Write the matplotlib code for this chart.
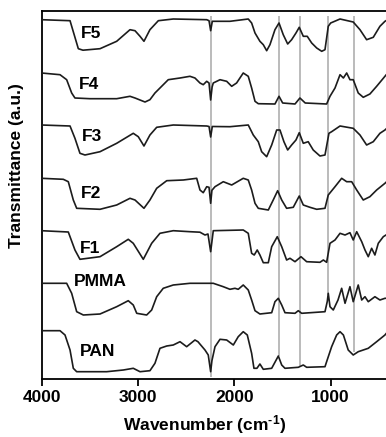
import matplotlib
matplotlib.use("Agg")
import matplotlib.pyplot as plt

plt.rcParams['font.family'] = ['Liberation Sans', 'DejaVu Sans']
plt.rcParams['mathtext.fontset'] = 'custom'
plt.rcParams['mathtext.rm'] = 'Liberation Sans:bold'
plt.rcParams['mathtext.bf'] = 'Liberation Sans:bold'
plt.rcParams['mathtext.default'] = 'rm'

# ---- data (wavenumber in cm^-1, transmittance drop below each trace's baseline, a.u.) ----
names = ["F5", "F4", "F3", "F2", "F1", "PMMA", "PAN"]
offsets = [359.3, 306.0, 254.0, 200.7, 148.3, 95.7, 48.3]

f5_wn = [4000, 3704, 3618, 3570, 3393, 3220, 3082, 3030, 2978, 2937, 2875, 2788, 2633, 2286, 2262, 2245, 2228,
         2045, 1855, 1820, 1785, 1734, 1699, 1664, 1630, 1578, 1536, 1492, 1446, 1405, 1360, 1326, 1284, 1243,
         1197, 1145, 1093, 1059, 1025, 1000, 903, 766, 696, 627, 558, 489, 437, 426]
f5_d = [0, 1, 29, 30.5, 29, 21.6, 10, 11, 16.6, 21.6, 10, 1, -0.7, 0, 1, 11, 1.6,
        1.6, -0.7, 3.3, 13.3, 21.6, 25, 31, 25, 10, 3.3, 15, 24.3, 20, 13.3, 7.6, 16.6, 16.6,
        23.3, 28.3, 31.6, 30, 6.6, 3.3, -0.7, 2.3, 10, 20, 17.6, 6.6, 1.6, 1]

f4_wn = [4000, 3808, 3739, 3687, 3653, 3497, 3220, 3082, 3030, 2926, 2875, 2823, 2771, 2685, 2563, 2460, 2408,
         2356, 2322, 2286, 2262, 2245, 2230, 2218, 2148, 2079, 2027, 1976, 1907, 1855, 1820, 1785, 1751, 1578,
         1536, 1498, 1370, 1319, 1264, 1042, 1007, 955, 903, 868, 834, 800, 766, 714, 662, 593, 523, 437, 426]
f4_d = [0, 1.7, 6.7, 20, 25, 25.7, 25.7, 23.3, 25, 29, 26.7, 20, 15, 6.7, 5, 3.3, 5,
        10, 11.7, 8.3, 10, 27, 14, 10, 6.7, 8.3, 13.3, 10, 0, 3.3, 15, 28.3, 30.7, 31,
        23.3, 30, 31, 25, 30, 31, 23.3, 15, 1.7, 5, 0, 6.7, 6.7, 20, 24.3, 21, 13.3, 3.3, 2]

f3_wn = [4000, 3704, 3653, 3601, 3549, 3393, 3220, 3048, 2996, 2937, 2875, 2805, 2633, 2286, 2262, 2245, 2228,
         2045, 1855, 1803, 1751, 1716, 1664, 1612, 1560, 1526, 1485, 1446, 1405, 1360, 1326, 1284, 1233,
         1181, 1111, 1059, 1018, 990, 903, 766, 696, 627, 558, 489, 437, 426]
f3_d = [0, 1, 13.3, 28.3, 30, 26.7, 18.3, 8.3, 11.7, 21, 10, 2.3, 0, 1, 1.5, 12, 1.5,
        1.7, 0, 10, 16.7, 26.7, 31.7, 20, 5, 5, 16.7, 25, 20, 15, 7.7, 18.3, 16.7,
        25, 31, 30, 8.3, 6.7, 1, 3.3, 10, 20, 16.7, 8.3, 5, 4]

f2_wn = [4000, 3774, 3722, 3670, 3635, 3393, 3220, 3082, 3030, 2937, 2875, 2805, 2701, 2529, 2390, 2356, 2322,
         2286, 2262, 2245, 2232, 2200, 2114, 2027, 1907, 1855, 1820, 1785, 1751, 1647, 1596, 1550, 1508, 1457,
         1388, 1326, 1284, 1215, 1145, 1059, 1025, 955, 886, 834, 782, 730, 662, 593, 523, 437, 426]
f2_d = [0, 1, 3.4, 21.7, 30, 31, 26.7, 20, 21.7, 30, 21.7, 10, 2.4, 1.7, 0, 11.7, 14.4,
        8.4, 9, 25, 12, 8.4, 3.4, 6.7, 0, 1.7, 11.7, 25, 30, 31.7, 21.7, 12.4, 21.7, 30,
        29, 17.7, 26.7, 29, 31, 30, 16.7, 8.4, 0, 3.4, 3.4, 11.7, 21.7, 18.4, 11.7, 5, 4]

f1_wn = [4000, 3722, 3653, 3601, 3393, 3220, 3100, 3048, 2944, 2857, 2771, 2633, 2460, 2356, 2304, 2273, 2245,
         2218, 1907, 1855, 1820, 1793, 1762, 1734, 1699, 1647, 1612, 1554, 1508, 1457, 1422, 1370, 1308, 1249,
         1111, 1076, 1042, 1007, 955, 903, 851, 800, 766, 730, 678, 644, 610, 575, 541, 506, 454, 426]
f1_d = [0, 1.3, 19.3, 28.6, 26, 16, 8.6, 12.6, 28.6, 12.6, 2.6, 0, 1, 1.5, 4.3, 3.3, 21,
        0, -0.7, 2.6, 22.6, 24.3, 19.3, 24.3, 32, 32, 16, 6, 16, 29.3, 27.6, 31, 26, 31,
        31.6, 29.3, 31.6, 12.6, 9.3, 2.6, 4.3, 2, 9.3, 1, 11, 19.3, 26, 17.6, 24.3, 12.6, 6, 4.3]

pmma_wn = [4000, 3739, 3687, 3635, 3566, 3393, 3220, 3100, 3048, 3012, 2909, 2857, 2805, 2737, 2633, 2460,
           2218, 2114, 2045, 1993, 1959, 1907, 1855, 1820, 1785, 1734, 1612, 1578, 1543, 1508, 1474, 1370, 1336,
           1301, 1059, 1035, 1025, 1007, 973, 924, 886, 851, 800, 766, 714, 678, 644, 610, 541, 489, 437, 426]
pmma_d = [0, 0, 10, 28.4, 31.7, 30.7, 23.4, 17.4, 21.7, 30, 31.7, 26.7, 13.4, 5, 1.7, 0,
          0, 3.4, 6, 5, 6, 1.7, 6.7, 16.7, 27.4, 30.7, 29.4, 18.4, 15, 21.7, 29.4, 30, 27.4,
          30, 28.4, 18, 10, 23.4, 26.7, 16.7, 5, 20, 3.4, 18.4, 1.7, 16.7, 13.4, 18.4, 13.4, 16.7, 15, 15]

pan_wn = [4000, 3808, 3756, 3704, 3670, 3635, 3324, 3151, 3048, 2978, 2875, 2823, 2771, 2701, 2633, 2563, 2494,
          2408, 2377, 2304, 2270, 2245, 2232, 2200, 2148, 2079, 2010, 1959, 1907, 1865, 1820, 1796, 1765, 1734,
          1699, 1612, 1543, 1508, 1474, 1336, 1284, 1249, 1059, 1042, 990, 938, 903, 868, 818, 766, 714, 610,
          523, 437, 426]
pan_d = [0, 0, 4.3, 19.3, 37.6, 41, 41, 39.3, 37.6, 41, 40, 32.6, 17.6, 15.3, 14.3, 11, 16,
         9.3, 11, 19.3, 24.3, 41, 30, 16, 8.6, 9.3, 14.3, 6, 1, 4.3, 22.6, 37.6, 37.6, 33.3,
         38.6, 37.6, 25.3, 34.3, 37.6, 36.6, 34.3, 36.6, 36, 31, 16, 4.3, 1, 4.3, 19.3, 24.3, 21, 17.6,
         11, 4.3, 3]

spectra_wn = [f5_wn, f4_wn, f3_wn, f2_wn, f1_wn, pmma_wn, pan_wn]
spectra_d = [f5_d, f4_d, f3_d, f2_d, f1_d, pmma_d, pan_d]

# label anchor positions (wavenumber, a.u.)
label_wn = [3487, 3504, 3479, 3490, 3497, 3393, 3419]
label_y = [346, 295, 243, 186, 131, 98, 27.3]

# marker lines: wavenumber and lower end (a.u.)
mark_wn = [2245, 1537, 1316, 1025, 758]
mark_low = [2, 23, 12, 84, 27.3]
mark_top = 363

xticks = [4000, 3000, 2000, 1000]

# ---- figure ----
W, H = 386, 437
fig = plt.figure(figsize=(W / 100, H / 100), dpi=100)
ax = fig.add_axes([41.5 / W, (H - 379) / H, (W - 41.5) / W, (379 - 10.5) / H])

for wn, lo in zip(mark_wn, mark_low):
    ax.vlines(wn, lo, mark_top, color='#a8a8a8', lw=1.1, zorder=1)

for wn, d, off in zip(spectra_wn, spectra_d, offsets):
    ax.plot(wn, [off - v for v in d], color='#1c1c1c', lw=1.2, zorder=3,
            solid_joinstyle='round')

for n, lx, ly in zip(names, label_wn, label_y):
    ax.text(lx, ly, n, fontsize=12.5, fontweight='bold', ha='center', va='center', zorder=4)

ax.set_xlim(4000, 426)
ax.set_ylim(0, 368.5)
ax.set_xticks(xticks)
ax.set_xticklabels([str(t) for t in xticks], fontsize=12.5, fontweight='bold')
ax.set_yticks([])
ax.tick_params(axis='x', direction='out', length=5, width=1.3, pad=3)
for s in ['left', 'bottom', 'top']:
    ax.spines[s].set_linewidth(1.3)
ax.spines['right'].set_visible(False)

fig.text(205 / W, 1 - 430 / H, 'Wavenumber (cm$^{\\text{-1}}$)', fontsize=12.5, fontweight='bold',
         ha='center', va='baseline')
fig.text(16.5 / W, 1 - 166 / H, 'Transmittance (a.u.)', fontsize=12.5, fontweight='bold',
         rotation=90, ha='center', va='center')

fig.savefig('out.png', dpi=100)
